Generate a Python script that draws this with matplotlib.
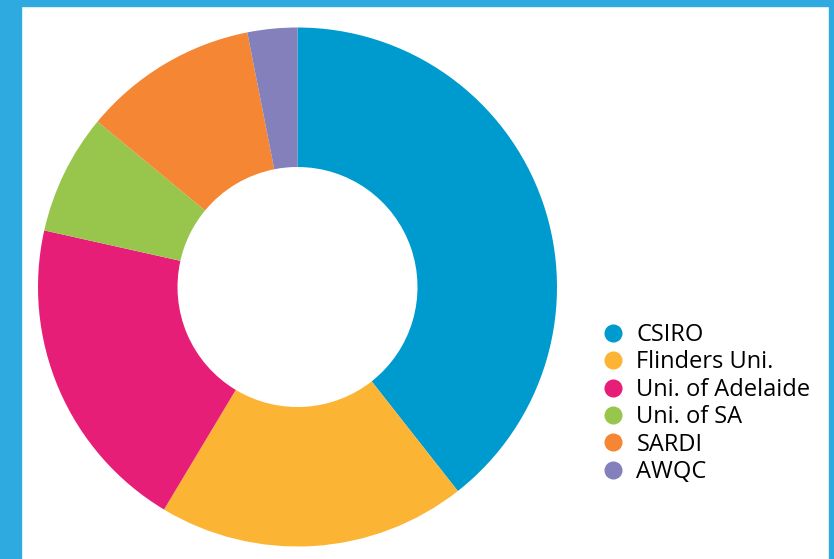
import matplotlib.pyplot as plt
from matplotlib.lines import Line2D
from matplotlib.patches import Rectangle

categories = ["CSIRO", "Flinders Uni.", "Uni. of Adelaide", "Uni. of SA", "SARDI", "AWQC"]
shares = [39.4, 19.2, 19.9, 7.5, 10.9, 3.1]
colors = ["#009bce", "#fbb433", "#e61e78", "#98c64c", "#f58634", "#8480bc"]

W, H = 834, 559
fig = plt.figure(figsize=(W / 100, H / 100), dpi=100)

# frame: blue bands on left, top and right
border = "#2eaae1"
for x0, y0, w, h in [(0, 0, 21, H), (0, H - 6, W, 6), (W - 5, 0, 5, H)]:
    fig.patches.append(Rectangle((x0 / W, y0 / H), w / W, h / H,
                                 transform=fig.transFigure, color=border, zorder=0))

cx, cy, r = 297.5, H - 287, 259.5
ax = fig.add_axes(((cx - r) / W, (cy - r) / H, 2 * r / W, 2 * r / H))
ax.pie(shares, colors=colors, startangle=90, counterclock=False, radius=1,
       wedgeprops=dict(width=1 - 120 / r, linewidth=0))
ax.set_xlim(-1, 1)
ax.set_ylim(-1, 1)
ax.set_axis_off()

handles = [Line2D([], [], linestyle="none", marker="o", markersize=13,
                  markerfacecolor=c, markeredgewidth=0) for c in colors]
fig.legend(handles, categories, loc="upper left",
           bbox_to_anchor=(601 / W, 1 - 323 / H), frameon=False,
           prop={"family": "Open Sans", "size": 17},
           handlelength=1.0, handletextpad=0.5, labelspacing=0.145,
           borderpad=0, borderaxespad=0)

fig.savefig("out.png", dpi=100)
